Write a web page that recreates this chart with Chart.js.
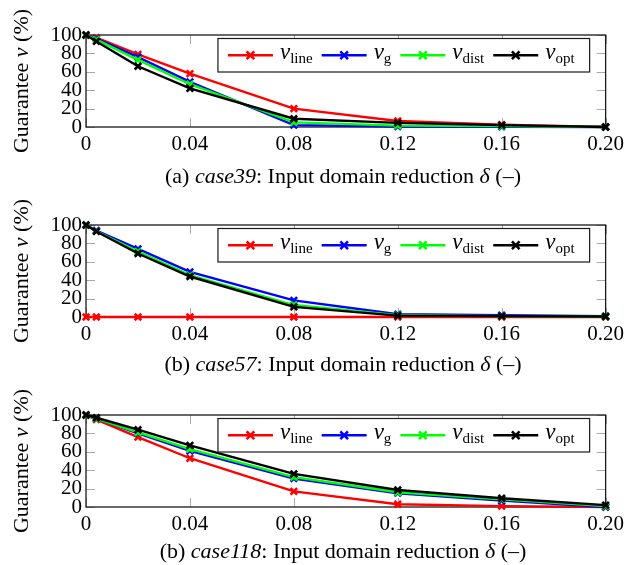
<!DOCTYPE html>
<html>
<head>
<meta charset="utf-8">
<script src="https://cdn.jsdelivr.net/npm/chart.js@4.4.1/dist/chart.umd.min.js"></script>
<style>
html,body{margin:0;padding:0;background:#fff;}
#wrap{position:relative;width:629px;height:565px;overflow:hidden;background:#fff;}
.pane{position:absolute;left:0;width:629px;}
canvas{display:block;}
</style>
</head>
<body>
<div id="wrap">
  <div class="pane" style="top:0px;height:190px"><canvas id="c1" width="629" height="190"></canvas></div>
  <div class="pane" style="top:190px;height:190px"><canvas id="c2" width="629" height="190"></canvas></div>
  <div class="pane" style="top:380px;height:185px"><canvas id="c3" width="629" height="185"></canvas></div>
</div>
<script>
// ---------- data ----------
const deltas = [0, 0.004, 0.02, 0.04, 0.08, 0.12, 0.16, 0.20];
const xTickValues = [0, 0.04, 0.08, 0.12, 0.16, 0.20];
const xTickLabels = ['0', '0.04', '0.08', '0.12', '0.16', '0.20'];
const yTickValues = [0, 20, 40, 60, 80, 100];
const yTickLabels = ['0', '20', '40', '60', '80', '100'];
const seriesNames = ['line', 'g', 'dist', 'opt'];

const case39Line = [100, 97, 79, 58, 20, 6.5, 2.5, 0];
const case39G    = [100, 96, 76, 49, 2, 0.5, 0.3, 0];
const case39Dist = [100, 95, 73, 46.5, 5, 1.5, 1, 0];
const case39Opt  = [100, 93, 66, 42, 9, 4.5, 2, 0];

const case57Line = [0, 0, 0, 0, 0, 0, 0, 0];
const case57G    = [100, 94, 74, 49, 18, 3, 2, 1];
const case57Dist = [100, 93, 71, 45.5, 13, 2, 1, 0.5];
const case57Opt  = [100, 93, 69, 44, 11, 1.5, 1, 0.5];

const case118Line = [100, 95, 76, 53, 17, 3, 1, 0];
const case118G    = [100, 96, 80, 61, 31, 15, 7, 0];
const case118Dist = [100, 96, 81, 63, 32.5, 16, 8.5, 1];
const case118Opt  = [100, 97, 84, 67, 36, 18.5, 9.5, 2];

// ---------- styles ----------
const seriesColors = ['#ff0000', '#0000ff', '#00ff00', '#000000'];
const SERIF = '"Liberation Serif", "Times New Roman", serif';

const panels = [
  { id: 'c1', tag: '(a) ', caseName: 'case39', values: [case39Line, case39G, case39Dist, case39Opt], captionY: 183 },
  { id: 'c2', tag: '(b) ', caseName: 'case57', values: [case57Line, case57G, case57Dist, case57Opt], captionY: 181 },
  { id: 'c3', tag: '(b) ', caseName: 'case118', values: [case118Line, case118G, case118Dist, case118Opt], captionY: 178 }
];

function drawRuns(ctx, runs, x, y, align) {
  let w = 0;
  runs.forEach(r => { ctx.font = r.f; r.w = ctx.measureText(r.t).width; w += r.w; });
  let cx = align === 'center' ? x - w / 2 : (align === 'right' ? x - w : x);
  ctx.textAlign = 'left';
  ctx.textBaseline = 'alphabetic';
  runs.forEach(r => { ctx.font = r.f; ctx.fillText(r.t, cx, y + (r.dy || 0)); cx += r.w; });
  return w;
}
function measureRuns(ctx, runs) {
  let w = 0;
  runs.forEach(r => { ctx.font = r.f; w += ctx.measureText(r.t).width; });
  return w;
}

const fMain = '22px ' + SERIF;
const fItal = 'italic 22px ' + SERIF;
const fLegNu = 'italic 23px ' + SERIF;
const fSub = '15px ' + SERIF;

const framePlugin = {
  id: 'frame',
  beforeDatasetsDraw(chart) {
    const ctx = chart.ctx;
    const { left, right, top, bottom } = chart.chartArea;
    const xs = chart.scales.x, ys = chart.scales.y;
    const TL = 9;
    ctx.save();
    ctx.strokeStyle = '#a8a8a8';
    ctx.lineWidth = 1;
    ctx.beginPath();
    xTickValues.forEach(v => {
      const px = Math.round(xs.getPixelForValue(v)) + 0.5;
      ctx.moveTo(px, bottom); ctx.lineTo(px, bottom - TL);
      ctx.moveTo(px, top); ctx.lineTo(px, top + TL);
    });
    yTickValues.forEach(v => {
      const py = Math.round(ys.getPixelForValue(v)) + 0.5;
      ctx.moveTo(left, py); ctx.lineTo(left + TL, py);
      ctx.moveTo(right, py); ctx.lineTo(right - TL, py);
    });
    ctx.stroke();
    ctx.strokeStyle = '#1a1a1a';
    ctx.lineWidth = 1.3;
    ctx.strokeRect(left, top, right - left, bottom - top);
    ctx.restore();
  }
};

const textPlugin = {
  id: 'texts',
  afterDatasetsDraw(chart, args, opts) {
    const ctx = chart.ctx;
    const { left, right, top, bottom } = chart.chartArea;
    const p = opts.panel;
    ctx.save();
    ctx.fillStyle = '#000';
    // legend box
    const entries = seriesNames.map(n => [
      { t: 'ν', f: fLegNu },
      { t: n, f: fSub, dy: 4 }
    ]);
    const padL = 10, sample = 45, gapL = 7, gapE = 9, padR = 15;
    let total = padL + padR;
    const widths = entries.map(r => measureRuns(ctx, r));
    widths.forEach((w, i) => { total += sample + gapL + w + (i < widths.length - 1 ? gapE : 0); });
    const boxR = right - 16, boxT = top + 3.5, boxH = 33.5;
    const boxL = boxR - total;
    ctx.fillStyle = '#fff';
    ctx.fillRect(boxL, boxT, total, boxH);
    ctx.strokeStyle = '#1a1a1a';
    ctx.lineWidth = 1.2;
    ctx.strokeRect(boxL, boxT, total, boxH);
    let cx = boxL + padL;
    const cy = boxT + boxH / 2;
    entries.forEach((runs, i) => {
      ctx.strokeStyle = seriesColors[i];
      ctx.lineWidth = 2.4;
      ctx.beginPath();
      ctx.moveTo(cx, cy); ctx.lineTo(cx + sample, cy);
      ctx.stroke();
      const mx = cx + sample / 2, r = 3.8;
      ctx.lineWidth = 2.6;
      ctx.beginPath();
      ctx.moveTo(mx - r, cy - r); ctx.lineTo(mx + r, cy + r);
      ctx.moveTo(mx - r, cy + r); ctx.lineTo(mx + r, cy - r);
      ctx.stroke();
      cx += sample + gapL;
      ctx.fillStyle = '#000';
      drawRuns(ctx, runs, cx, cy + 4, 'left');
      cx += widths[i] + gapE;
    });
    // y-axis title (rotated)
    ctx.save();
    ctx.translate(28, (top + bottom) / 2);
    ctx.rotate(-Math.PI / 2);
    ctx.fillStyle = '#000';
    drawRuns(ctx, [
      { t: 'Guarantee ', f: fMain },
      { t: 'ν', f: fItal },
      { t: ' (%)', f: fMain }
    ], 0, 0, 'center');
    ctx.restore();
    // caption
    ctx.fillStyle = '#000';
    drawRuns(ctx, [
      { t: p.tag, f: fMain },
      { t: p.caseName, f: fItal },
      { t: ': Input domain reduction ', f: fMain },
      { t: 'δ', f: fItal },
      { t: ' (–)', f: fMain }
    ], 343, p.captionY, 'center');
    ctx.restore();
  }
};

panels.forEach(p => {
  const canvas = document.getElementById(p.id);
  const H = canvas.height;
  new Chart(canvas.getContext('2d'), {
    type: 'line',
    data: {
      datasets: p.values.map((arr, i) => ({
        label: 'ν' + seriesNames[i],
        data: deltas.map((d, j) => ({ x: d, y: arr[j] })),
        borderColor: seriesColors[i],
        backgroundColor: seriesColors[i],
        pointBorderColor: seriesColors[i],
        borderWidth: 2.4,
        pointStyle: 'crossRot',
        pointRadius: 4.6,
        pointBorderWidth: 2.6,
        pointHoverRadius: 4.6,
        tension: 0,
        fill: false,
        clip: false,
        order: 3 - i
      }))
    },
    options: {
      responsive: false,
      animation: false,
      devicePixelRatio: 1,
      events: [],
      layout: { padding: { left: 0, right: 20, top: 35, bottom: 0 } },
      plugins: {
        legend: { display: false },
        tooltip: { enabled: false },
        texts: { panel: p }
      },
      scales: {
        x: {
          type: 'linear', min: 0, max: 0.2,
          afterBuildTicks: s => { s.ticks = xTickValues.map(v => ({ value: v })); },
          afterFit: s => { s.height = H - 127; },
          grid: { display: false, drawTicks: false },
          border: { display: false },
          ticks: {
            autoSkip: false, maxRotation: 0, minRotation: 0, padding: 5, color: '#000',
            font: { family: SERIF, size: 21 },
            callback: (v, i) => xTickLabels[i]
          }
        },
        y: {
          type: 'linear', min: 0, max: 100,
          afterBuildTicks: s => { s.ticks = yTickValues.map(v => ({ value: v })); },
          afterFit: s => { s.width = 86; },
          grid: { display: false, drawTicks: false },
          border: { display: false },
          ticks: {
            autoSkip: false, padding: 4, color: '#000',
            font: { family: SERIF, size: 21, lineHeight: 1 },
            callback: (v, i) => yTickLabels[i]
          }
        }
      }
    },
    plugins: [framePlugin, textPlugin]
  });
});
</script>
</body>
</html>
